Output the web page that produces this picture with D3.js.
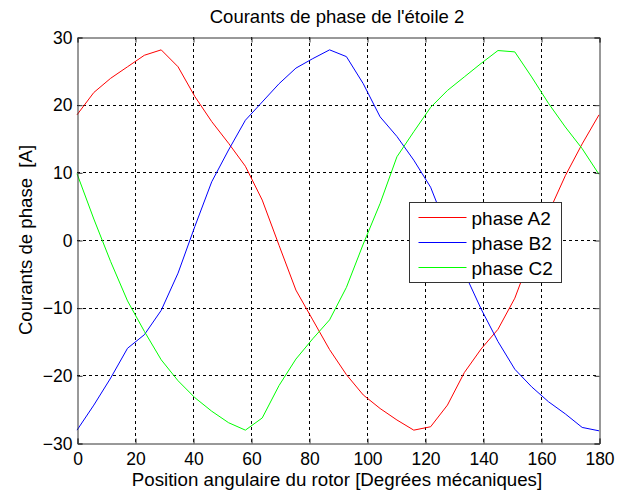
<!DOCTYPE html>
<html>
<head>
<meta charset="utf-8">
<script src="https://cdn.jsdelivr.net/npm/d3@7"></script>
<style>
  html, body { margin: 0; padding: 0; background: #fff; }
  text { font-family: Arial, "Liberation Sans", sans-serif; fill: #000; }
</style>
</head>
<body>
<svg id="chart" width="630" height="501"></svg>
<script>
// ---- data ----
const nSamples = 32;                 // samples spaced 180/31 degrees
const angleStep = 180 / 31;
const phaseA2 = [18.5, 21.8, 23.9, 25.6, 27.3, 28.1, 25.6, 21.2, 17.5, 14.3, 10.9,
                 5.9, -0.8, -7.4, -11.8, -16.2, -19.9, -22.9, -24.9, -26.6, -28.1,
                 -27.6, -24.4, -19.6, -16.1, -13.2, -8.6, -2.0, 4.0, 9.5, 14.2, 18.5];
const phaseB2 = [-28.1, -24.4, -20.4, -16.0, -14.0, -10.4, -4.9, 2.0, 8.6, 13.3, 17.7,
                 20.4, 23.1, 25.4, 26.8, 28.1, 27.1, 23.1, 18.2, 15.3, 11.8,
                 7.8, 1.5, -4.8, -10.2, -15.0, -19.1, -21.7, -23.9, -25.7, -27.7, -28.2];
const phaseC2 = [9.8, 3.1, -3.2, -9.0, -13.5, -17.7, -20.8, -23.3, -25.3, -27.0, -28.1,
                 -26.3, -21.5, -17.6, -14.6, -11.8, -7.0, -0.6, 5.4, 12.3, 16.0,
                 19.6, 22.1, 24.1, 26.1, 28.0, 27.8, 24.1, 20.2, 16.7, 13.5, 9.7];
const angles = d3.range(nSamples).map(i => i * angleStep);
const seriesNames = ["phase A2", "phase B2", "phase C2"];
const seriesColors = ["#ff0000", "#0000ff", "#00ff00"];
const xTicks = [0, 20, 40, 60, 80, 100, 120, 140, 160, 180];
const yTicks = [-30, -20, -10, 0, 10, 20, 30];
const titleText = "Courants de phase de l'\u00e9toile 2";
const xLabelText = "Position angulaire du rotor [Degr\u00e9es m\u00e9caniques]";
const yLabelText = "Courants de phase  [A]";

// ---- layout ----
const L = 77, R = 599, T = 37, B = 443;
const FONT = "Arial, 'Liberation Sans', sans-serif";
const svg = d3.select("#chart");
const x = d3.scaleLinear().domain([0, 180]).range([L, R]);
const y = d3.scaleLinear().domain([-30, 30]).range([B, T]);

// grid
const grid = svg.append("g");
grid.selectAll("line.vx").data(xTicks.slice(1, -1)).enter().append("line")
  .attr("x1", d => Math.round(x(d)) + 0.5).attr("x2", d => Math.round(x(d)) + 0.5)
  .attr("y1", T).attr("y2", B)
  .attr("stroke", "#000").attr("stroke-width", 1).attr("stroke-dasharray", "3,3");
grid.selectAll("line.hy").data(yTicks.slice(1, -1)).enter().append("line")
  .attr("y1", d => Math.round(y(d)) + 0.5).attr("y2", d => Math.round(y(d)) + 0.5)
  .attr("x1", L).attr("x2", R)
  .attr("stroke", "#000").attr("stroke-width", 1).attr("stroke-dasharray", "3,3");

// series
const data = [phaseA2, phaseB2, phaseC2];
const line = d3.line().x((d, i) => x(angles[i])).y(d => y(d));
data.forEach((s, k) => {
  svg.append("path").datum(s).attr("d", line)
    .attr("fill", "none").attr("stroke", seriesColors[k]).attr("stroke-width", 1);
});

// axes
const xAxisB = d3.axisBottom(x).tickValues(xTicks).tickSize(-5).tickPadding(9).tickFormat(d3.format("d"));
const xAxisT = d3.axisTop(x).tickValues(xTicks).tickSize(-5).tickFormat("");
const yAxisL = d3.axisLeft(y).tickValues(yTicks).tickSize(-5).tickPadding(5).tickFormat(d3.format("d"));
const yAxisR = d3.axisRight(y).tickValues(yTicks).tickSize(-5).tickFormat("");
function style(g) {
  g.selectAll("path.domain").attr("stroke", "#333").attr("stroke-width", 1);
  g.selectAll(".tick line").attr("stroke", "#333");
  g.selectAll("text").style("font-family", FONT)
    .style("font-size", "17.5px").attr("fill", "#000");
}
svg.append("g").attr("transform", `translate(0.5,${B + 0.5})`).call(xAxisB).call(style);
svg.append("g").attr("transform", `translate(0.5,${T + 0.5})`).call(xAxisT).call(style);
svg.append("g").attr("transform", `translate(${L + 0.5},0.5)`).call(yAxisL).call(style);
svg.append("g").attr("transform", `translate(${R + 0.5},0.5)`).call(yAxisR).call(style);

// title & labels
svg.append("text").attr("x", (L + R) / 2 - 1).attr("y", 23).attr("text-anchor", "middle")
  .style("font-size", "18.5px").text(titleText);
svg.append("text").attr("x", (L + R) / 2 - 1).attr("y", 486).attr("text-anchor", "middle")
  .style("font-size", "18.7px").text(xLabelText);
svg.append("text").attr("transform", `translate(32,${(T + B) / 2}) rotate(-90)`)
  .attr("text-anchor", "middle").style("font-size", "18.6px").style("white-space", "pre")
  .text(yLabelText);

// legend
const lg = svg.append("g").attr("transform", "translate(409.5,202.5)");
lg.append("rect").attr("width", 152).attr("height", 80)
  .attr("fill", "#fff").attr("stroke", "#333").attr("stroke-width", 1);
seriesNames.forEach((name, k) => {
  const yy = 15 + k * 25;
  lg.append("line").attr("x1", 9).attr("x2", 57).attr("y1", yy).attr("y2", yy)
    .attr("stroke", seriesColors[k]).attr("stroke-width", 1);
  lg.append("text").attr("x", 62).attr("y", yy + 7.5).style("font-size", "19px").text(name);
});
</script>
</body>
</html>
